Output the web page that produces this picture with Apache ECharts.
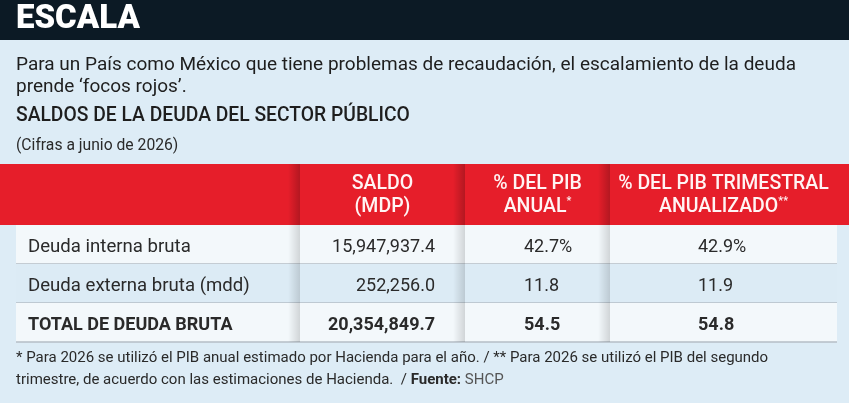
<!DOCTYPE html>
<html>
<head>
<meta charset="utf-8">
<script src="https://cdn.jsdelivr.net/npm/echarts@6/dist/echarts.min.js"></script>
<style>
  html, body { margin: 0; padding: 0; background: #ddecf6; }
  #main { width: 849px; height: 403px; }
</style>
</head>
<body>
<div id="main"></div>
<script>
// Texts
const title = "ESCALA";
const intro = [
  "Para un País como México que tiene problemas de recaudación, el escalamiento de la deuda",
  "prende ‘focos rojos’."
];
const tableTitle = "SALDOS DE LA DEUDA DEL SECTOR PÚBLICO";
const tableNote = "(Cifras a junio de 2026)";
const headers = [["SALDO", "(MDP)"], ["% DEL PIB", "ANUAL", "*"], ["% DEL PIB TRIMESTRAL", "ANUALIZADO", "**"]];
const footnote1 = "* Para 2026 se utilizó el PIB anual estimado por Hacienda para el año. / ** Para 2026 se utilizó el PIB del segundo";
const footnote2 = "trimestre, de acuerdo con las estimaciones de Hacienda.  / ";
const sourceLabel = "Fuente:";
const source = "SHCP";

// Table data
const rowLabels = ["Deuda interna bruta", "Deuda externa bruta (mdd)", "TOTAL DE DEUDA BRUTA"];
const saldo = [15947937.4, 252256.0, 20354849.7];
const pibAnual = [42.7, 11.8, 54.5];
const pibTrimestral = [42.9, 11.9, 54.8];

const FONT = "Roboto";
const RED = "#e61e2a";
const HEAD_TEXT = "#fff4f4";
// column edges, measured from the table's left side
const colEdges = [0, 284, 449, 594, 821];

let myChart = echarts.init(document.getElementById("main"));

function shadow(x, y, h, dark) {
  return {
    type: "rect",
    shape: { x: x - 12, y: y, width: 12, height: h },
    style: {
      fill: new echarts.graphic.LinearGradient(0, 0, 1, 0, [
        { offset: 0, color: "rgba(0,0,0,0)" },
        { offset: 1, color: "rgba(0,0,0," + dark + ")" }
      ])
    },
    silent: true
  };
}

function fmtSaldo(v) {
  return v.toLocaleString("en-US", { minimumFractionDigits: 1, maximumFractionDigits: 1 });
}

function renderRow(params, api) {
  const i = api.value(1);
  const cs = params.coordSys;
  const yc = api.coord([0, i])[1];
  const h = api.size([0, 1])[1];
  const top = yc - h / 2;
  const x0 = cs.x;
  const last = i === rowLabels.length - 1;
  const weight = last ? "bold" : "normal";
  const txt = (text, x, align, size) => ({
    type: "text",
    style: {
      text: text, x: x, y: yc + 3, textAlign: align, textVerticalAlign: "middle",
      fontFamily: FONT, fontSize: size, fontWeight: weight, fill: "#2a2a2a"
    }
  });
  const pctSuffix = i === 0 ? "%" : "";
  const children = [
    { type: "rect", shape: { x: x0, y: top, width: cs.width, height: h },
      style: { fill: i % 2 ? "#dcebf5" : "#f3f8fb" } },
    { type: "line", shape: { x1: x0, y1: top + h, x2: x0 + cs.width, y2: top + h },
      style: { stroke: "#b4bec6", lineWidth: 1.5 } }
  ];
  for (let k = 1; k < 4; k++) children.push(shadow(x0 + colEdges[k], top, h, 0.14));
  children.push(
    txt(rowLabels[i], x0 + 12, "left", last ? 18 : 18.6),
    txt(fmtSaldo(api.value(2)), x0 + 419, "right", 18),
    txt(api.value(3).toFixed(1) + pctSuffix, x0 + 508, "left", 18),
    txt(api.value(4).toFixed(1) + pctSuffix, x0 + 682, "left", 18)
  );
  return { type: "group", children: children };
}

// header cells
const headerTop = 164, headerH = 61;
const headerGraphics = [
  { type: "rect", shape: { x: 0, y: headerTop, width: 849, height: headerH }, style: { fill: RED } }
];
for (let k = 1; k < 4; k++) headerGraphics.push(shadow(16 + colEdges[k], headerTop, headerH, 0.22));
headers.forEach((hd, k) => {
  const cx = 16 + (colEdges[k + 1] + colEdges[k + 2]) / 2;
  headerGraphics.push({
    type: "text",
    style: {
      text: "{a|" + hd[0] + "}\n{a|" + hd[1] + "}" + (hd[2] ? "{s|" + hd[2] + "}" : ""),
      x: cx, y: headerTop + headerH / 2 + 1, textAlign: "center", textVerticalAlign: "middle",
      fill: HEAD_TEXT,
      rich: {
        a: { fontFamily: FONT, fontSize: 19.5, fontWeight: 500, fill: HEAD_TEXT, color: HEAD_TEXT, lineHeight: 23 },
        s: { fontFamily: FONT, fontSize: 11, fontWeight: 500, fill: HEAD_TEXT, color: HEAD_TEXT, lineHeight: 23, verticalAlign: "top" }
      }
    }
  });
});

let options = {
  backgroundColor: "#ddecf6",
  animation: false,
  grid: { left: 16, right: 12, top: 225, height: 117 },
  xAxis: { type: "value", min: 0, max: 1, show: false },
  yAxis: { type: "category", data: rowLabels, inverse: true, show: false },
  graphic: [
    { type: "rect", shape: { x: 0, y: 0, width: 849, height: 40 }, style: { fill: "#0c1a25" } },
    { type: "text", style: { text: title, x: 16, y: 20, textVerticalAlign: "middle",
        fontFamily: FONT, fontSize: 33, fontWeight: 900, fill: "#ffffff" } },
    { type: "text", style: { text: intro.join("\n"), x: 16, y: 54, lineHeight: 22,
        fontFamily: FONT, fontSize: 19, fill: "#1e1e1e" } },
    { type: "text", style: { text: tableTitle, x: 16, y: 107,
        fontFamily: FONT, fontSize: 19.3, fontWeight: 500, fill: "#1e1e1e" } },
    { type: "text", style: { text: tableNote, x: 16, y: 138,
        fontFamily: FONT, fontSize: 15.7, fill: "#2a2a2a" } },
    ...headerGraphics,
    { type: "text", style: { text: footnote1, x: 16, y: 351,
        fontFamily: FONT, fontSize: 15, fill: "#2a2a2a" } },
    { type: "text", style: {
        text: "{n|" + footnote2 + "}{b|" + sourceLabel + "}{g| " + source + "}",
        x: 16, y: 373,
        rich: {
          n: { fontFamily: FONT, fontSize: 15, fill: "#2a2a2a" },
          b: { fontFamily: FONT, fontSize: 15, fontWeight: "bold", fill: "#2a2a2a" },
          g: { fontFamily: FONT, fontSize: 15, fill: "#555555" }
        } } }
  ],
  series: [
    {
      type: "custom",
      renderItem: renderRow,
      encode: { x: 0, y: 1 },
      data: rowLabels.map((_, i) => [0, i, saldo[i], pibAnual[i], pibTrimestral[i]])
    }
  ]
};
myChart.setOption(options);
</script>
</body>
</html>
